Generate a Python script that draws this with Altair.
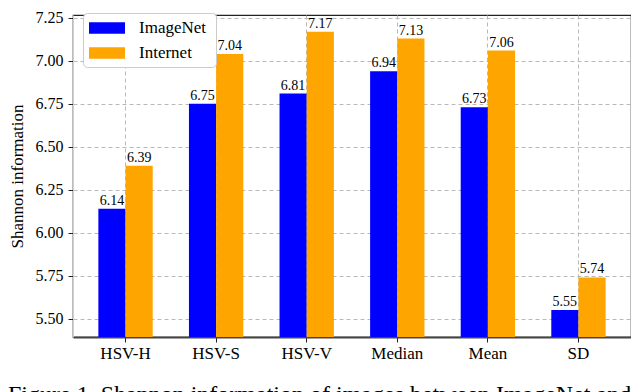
import altair as alt
import pandas as pd

categories = ["HSV-H", "HSV-S", "HSV-V", "Median", "Mean", "SD"]
imagenet = [6.14, 6.75, 6.81, 6.94, 6.73, 5.55]
internet = [6.39, 7.04, 7.17, 7.13, 7.06, 5.74]
series = ["ImageNet", "Internet"]
colors = ["#0000ff", "#ffa500"]
y_ticks = [5.50, 5.75, 6.00, 6.25, 6.50, 6.75, 7.00, 7.25]
caption = "Figure 1. Shannon information of images between ImageNet and"

rows = []
for c, a, b in zip(categories, imagenet, internet):
    rows.append({"cat": c, "src": series[0], "val": a})
    rows.append({"cat": c, "src": series[1], "val": b})
df = pd.DataFrame(rows)

FONT = "Times New Roman, Liberation Serif, Times, serif"

x = alt.X("cat:N", sort=categories, title=None,
          scale=alt.Scale(paddingInner=0.4, paddingOuter=0.28),
          axis=alt.Axis(labelAngle=0, labelFontSize=17, labelFont=FONT, labelColor="#000",
                        grid=True, bandPosition=0.5, tickSize=5, tickColor="#222",
                        labelPadding=3, domainColor="#444", domainWidth=2,
                        gridDash=[4, 3], gridColor="#b8b8b8"))
y = alt.Y("val:Q", title="Shannon information",
          scale=alt.Scale(domain=[5.393, 7.267], zero=False, nice=False),
          axis=alt.Axis(values=y_ticks, format=".2f", labelFontSize=16, labelFont=FONT,
                        labelColor="#000", titleFont=FONT, titleFontSize=17,
                        titleFontWeight="normal", titleColor="#000", titlePadding=9,
                        tickSize=5, tickColor="#222", labelPadding=5,
                        domainColor="#d0d0d0", gridDash=[4, 3], gridColor="#b8b8b8"))
xo = alt.XOffset("src:N", sort=series)

bars = alt.Chart(df).mark_bar(clip=True).encode(
    x=x, y=y, xOffset=xo,
    color=alt.Color("src:N", sort=series,
                    scale=alt.Scale(domain=series, range=colors),
                    legend=alt.Legend(title="\u00a0", titleOrient="right", titlePadding=4,
                                      titleFontSize=4,
                                      orient="none", legendX=10, legendY=-2,
                                      symbolType="M-2,-0.64H2V0.64H-2Z", symbolSize=324,
                                      symbolOffset=9,
                                      symbolStrokeWidth=0, labelFont=FONT, labelFontSize=17,
                                      labelColor="#000", labelOffset=23, rowPadding=8,
                                      padding=6, strokeColor="#cccccc", cornerRadius=4,
                                      fillColor="white")),
)

labels = alt.Chart(df).mark_text(baseline="bottom", dy=-1, font=FONT, fontSize=14,
                                 color="#000").encode(
    x=x, y=y, xOffset=xo, text=alt.Text("val:Q", format=".2f"))

chart = alt.layer(bars, labels).properties(
    width=558, height=322,
    autosize=alt.AutoSizeParams(type="none"),
    padding={"left": 65, "top": 7, "right": 0, "bottom": 60},
    title=alt.TitleParams(text=caption, orient="bottom", anchor="start", frame="group",
                          dx=-65, offset=22, font=FONT, fontSize=24, fontWeight="normal",
                          color="#000", baseline="top"),
).configure_view(stroke="#222", strokeWidth=1.2)

chart.save("out.html", embed_options={"renderer": "svg", "actions": False})
